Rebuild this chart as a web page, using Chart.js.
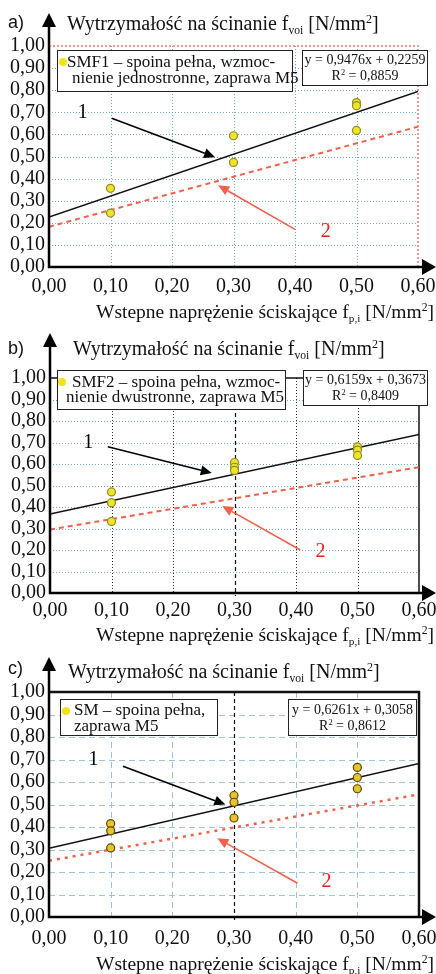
<!DOCTYPE html>
<html>
<head>
<meta charset="utf-8">
<script src="https://cdn.jsdelivr.net/npm/chart.js@4.4.0/dist/chart.umd.min.js"></script>
<style>
body { margin: 0; background: #fff; width: 436px; height: 974px; overflow: hidden; font-family: "Liberation Serif", serif; color: #111; }
.panel { position: absolute; left: 0; width: 436px; }
.panel canvas { position: absolute; left: 0; top: 0; }
.tag { position: absolute; font-family: "Liberation Sans", sans-serif; font-size: 18px; line-height: 24px; }
.ttl { position: absolute; font-size: 20px; line-height: 24px; white-space: nowrap; }
.xt { position: absolute; right: 2px; font-size: 19.5px; line-height: 24px; white-space: nowrap; }
.box { position: absolute; box-sizing: border-box; border: 1.5px solid #222; background: #fff; white-space: nowrap; }
.leg { font-size: 17px; line-height: 16px; }
.eq { font-size: 14px; line-height: 16px; text-align: center; }
.dot { position: absolute; width: 8px; height: 8px; border-radius: 50%; background: #f2e21a; }
sub { font-size: 58%; vertical-align: -0.35em; line-height: 0; }
sup { font-size: 60%; vertical-align: 0.6em; line-height: 0; }
</style>
</head>
<body>

<div class="panel" style="top:0;height:325px">
  <canvas id="ca" width="436" height="325"></canvas>
  <div class="tag" style="left:8px;top:10px">a)</div>
  <div class="ttl" style="left:67px;top:11px">Wytrzymałość na ścinanie f<sub>voi</sub> [N/mm<sup>2</sup>]</div>
  <div class="box leg" style="left:57px;top:50px;width:236px;height:42px">
    <div class="dot" style="left:1px;top:7px"></div>
    <div style="position:absolute;left:9px;top:3px">SMF1 – spoina pełna, wzmoc-</div>
    <div style="position:absolute;left:14px;top:19px">nienie jednostronne, zaprawa M5</div>
  </div>
  <div class="box eq" style="left:302px;top:50px;width:126px;height:36px;padding-top:1px">y = 0,9476x + 0,2259<br>R<sup>2</sup> = 0,8859</div>
  <div class="xt" style="top:300px">Wstepne naprężenie ściskające f<sub>p,i</sub> [N/mm<sup>2</sup>]</div>
</div>

<div class="panel" style="top:325px;height:325px">
  <canvas id="cb" width="436" height="325"></canvas>
  <div class="tag" style="left:8px;top:11px">b)</div>
  <div class="ttl" style="left:73px;top:11px">Wytrzymałość na ścinanie f<sub>voi</sub> [N/mm<sup>2</sup>]</div>
  <div class="box leg" style="left:57px;top:45px;width:229px;height:40px">
    <div class="dot" style="left:0px;top:7px"></div>
    <div style="position:absolute;left:14px;top:3px">SMF2 – spoina pełna, wzmoc-</div>
    <div style="position:absolute;left:8px;top:18px">nienie dwustronne, zaprawa M5</div>
  </div>
  <div class="box eq" style="left:303px;top:45px;width:125px;height:36px;padding-top:1px">y = 0,6159x + 0,3673<br>R<sup>2</sup> = 0,8409</div>
  <div class="xt" style="top:298px">Wstepne naprężenie ściskające f<sub>p,i</sub> [N/mm<sup>2</sup>]</div>
</div>

<div class="panel" style="top:650px;height:324px">
  <canvas id="cc" width="436" height="324"></canvas>
  <div class="tag" style="left:8px;top:6px">c)</div>
  <div class="ttl" style="left:68px;top:9px">Wytrzymałość na ścinanie f<sub>voi</sub> [N/mm<sup>2</sup>]</div>
  <div class="box leg" style="left:60px;top:49px;width:158px;height:37px">
    <div class="dot" style="left:1px;top:7px"></div>
    <div style="position:absolute;left:13px;top:2px">SM – spoina pełna,</div>
    <div style="position:absolute;left:13px;top:18px">zaprawa M5</div>
  </div>
  <div class="box eq" style="left:288px;top:49px;width:129px;height:37px;padding-top:2px">y = 0,6261x + 0,3058<br>R<sup>2</sup> = 0,8612</div>
  <div class="xt" style="top:302px">Wstepne naprężenie ściskające f<sub>p,i</sub> [N/mm<sup>2</sup>]</div>
</div>

<script>
// Tick labels
const xTicks = [0, 0.1, 0.2, 0.3, 0.4, 0.5, 0.6];
const yTicks = [0, 0.1, 0.2, 0.3, 0.4, 0.5, 0.6, 0.7, 0.8, 0.9, 1.0];
const lineX = [0, 0.6];

// a) SMF1
const aPtsX = [0.1, 0.1, 0.3, 0.3, 0.5, 0.5, 0.5];
const aPtsY = [0.356, 0.244, 0.594, 0.473, 0.744, 0.730, 0.618];
const aFitY = [0.226, 0.794];
const aRedY = [0.182, 0.635];
const aArrow1 = [0.102, 0.673, 0.27, 0.497];
const aArrow2 = [0.40, 0.17, 0.275, 0.37];
const aLabels = [0.055, 0.70, 0.45, 0.16];

// b) SMF2
const bPtsX = [0.1, 0.1, 0.1, 0.3, 0.3, 0.3, 0.5, 0.5, 0.5];
const bPtsY = [0.47, 0.42, 0.333, 0.607, 0.585, 0.57, 0.68, 0.665, 0.64];
const bFitY = [0.367, 0.737];
const bRedY = [0.295, 0.585];
const bArrow1 = [0.094, 0.68, 0.263, 0.558];
const bArrow2 = [0.407, 0.20, 0.28, 0.405];
const bLabels = [0.062, 0.70, 0.44, 0.19];

// c) SM
const cPtsX = [0.1, 0.1, 0.1, 0.3, 0.3, 0.3, 0.5, 0.5, 0.5];
const cPtsY = [0.415, 0.383, 0.307, 0.54, 0.51, 0.44, 0.665, 0.62, 0.57];
const cFitY = [0.306, 0.682];
const cRedY = [0.25, 0.545];
const cArrow1 = [0.12, 0.67, 0.286, 0.50];
const cArrow2 = [0.403, 0.15, 0.273, 0.35];
const cLabels = [0.072, 0.70, 0.45, 0.155];

const RED = '#f0604c';
const fmt = v => v.toFixed(2).replace('.', ',');

function arrow(ctx, x1, y1, x2, y2, color) {
  const ang = Math.atan2(y2 - y1, x2 - x1);
  const len = 11, w = 5;
  ctx.strokeStyle = color;
  ctx.fillStyle = color;
  ctx.lineWidth = 1.6;
  ctx.setLineDash([]);
  ctx.beginPath();
  ctx.moveTo(x1, y1);
  ctx.lineTo(x2 - len * Math.cos(ang), y2 - len * Math.sin(ang));
  ctx.stroke();
  ctx.beginPath();
  ctx.moveTo(x2, y2);
  ctx.lineTo(x2 - len * Math.cos(ang) + w * Math.sin(ang), y2 - len * Math.sin(ang) - w * Math.cos(ang));
  ctx.lineTo(x2 - len * Math.cos(ang) - w * Math.sin(ang), y2 - len * Math.sin(ang) + w * Math.cos(ang));
  ctx.closePath();
  ctx.fill();
}

function makeDecor(p) {
  return {
    id: 'decor' + p.id,
    beforeDatasetsDraw(chart) {
      const { ctx, chartArea: a, scales: { x, y } } = chart;
      ctx.save();
      // horizontal grid
      ctx.strokeStyle = p.hGrid.color;
      ctx.lineWidth = p.hGrid.width;
      ctx.setLineDash(p.hGrid.dash);
      yTicks.slice(1, -1).forEach(v => {
        const py = Math.round(y.getPixelForValue(v)) + 0.5;
        ctx.beginPath(); ctx.moveTo(a.left, py); ctx.lineTo(a.right, py); ctx.stroke();
      });
      // vertical grid
      xTicks.slice(1, -1).forEach(v => {
        const g = (v === 0.3 && p.midLine) ? p.midLine : p.vGrid;
        ctx.strokeStyle = g.color;
        ctx.lineWidth = g.width;
        ctx.setLineDash(g.dash);
        const px = Math.round(x.getPixelForValue(v)) + 0.5;
        ctx.beginPath(); ctx.moveTo(px, a.top); ctx.lineTo(px, a.bottom + (g.extra || 0)); ctx.stroke();
      });
      // top / right frame
      ctx.strokeStyle = p.frame.color;
      ctx.lineWidth = p.frame.width;
      ctx.setLineDash(p.frame.dash);
      ctx.beginPath();
      ctx.moveTo(a.left, a.top); ctx.lineTo(a.right, a.top); ctx.lineTo(a.right, a.bottom);
      ctx.stroke();
      ctx.restore();
    },
    afterDatasetsDraw(chart) {
      const { ctx, chartArea: a, scales: { x, y } } = chart;
      ctx.save();
      // axes with arrow heads
      ctx.setLineDash([]);
      ctx.strokeStyle = '#000';
      ctx.fillStyle = '#000';
      ctx.lineWidth = 2.5;
      ctx.beginPath();
      ctx.moveTo(a.left, p.axisTop + 10); ctx.lineTo(a.left, a.bottom);
      ctx.lineTo(a.right + 6, a.bottom);
      ctx.stroke();
      ctx.beginPath();
      ctx.moveTo(a.left, p.axisTop); ctx.lineTo(a.left - 7, p.axisTop + 14); ctx.lineTo(a.left + 7, p.axisTop + 14);
      ctx.closePath(); ctx.fill();
      ctx.beginPath();
      ctx.moveTo(436, a.bottom); ctx.lineTo(422, a.bottom - 8); ctx.lineTo(422, a.bottom + 8);
      ctx.closePath(); ctx.fill();
      // annotation arrows
      const A1 = p.arrow1, A2 = p.arrow2, L = p.labels;
      arrow(ctx, x.getPixelForValue(A1[0]), y.getPixelForValue(A1[1]), x.getPixelForValue(A1[2]), y.getPixelForValue(A1[3]), '#000');
      arrow(ctx, x.getPixelForValue(A2[0]), y.getPixelForValue(A2[1]), x.getPixelForValue(A2[2]), y.getPixelForValue(A2[3]), RED);
      ctx.font = '20px "Liberation Serif"';
      ctx.textAlign = 'center';
      ctx.textBaseline = 'middle';
      ctx.fillStyle = '#000';
      ctx.fillText('1', x.getPixelForValue(L[0]), y.getPixelForValue(L[1]));
      ctx.fillStyle = '#e8201c';
      ctx.fillText('2', x.getPixelForValue(L[2]), y.getPixelForValue(L[3]));
      ctx.restore();
    }
  };
}

function makeChart(p) {
  const H = p.h;
  new Chart(document.getElementById(p.id), {
    type: 'scatter',
    data: {
      datasets: [
        {
          data: p.ptsX.map((v, i) => ({ x: v, y: p.ptsY[i] })),
          backgroundColor: p.ptFill,
          borderColor: p.ptBorder,
          borderWidth: 1.2,
          pointRadius: 4,
          order: 0
        },
        {
          data: lineX.map((v, i) => ({ x: v, y: p.fit[i] })),
          showLine: true,
          borderColor: '#111',
          borderWidth: 1.5,
          pointRadius: 0,
          order: 1
        },
        {
          data: lineX.map((v, i) => ({ x: v, y: p.red[i] })),
          showLine: true,
          borderColor: RED,
          borderWidth: p.redWidth,
          borderDash: p.redDash,
          pointRadius: 0,
          order: 2
        }
      ]
    },
    options: {
      responsive: false,
      animation: false,
      events: [],
      layout: { padding: { left: 0, right: 436 - p.area.r, top: p.area.t, bottom: 0 } },
      plugins: { legend: { display: false }, tooltip: { enabled: false } },
      scales: {
        x: {
          type: 'linear', min: 0, max: 0.6,
          afterBuildTicks: s => { s.ticks = xTicks.map(v => ({ value: v })); },
          afterFit: s => { s.height = H - p.area.b; s.paddingLeft = 0; s.paddingRight = 0; },
          grid: { display: false, drawTicks: false },
          border: { display: false },
          ticks: { padding: p.xPad, maxRotation: 0, autoSkip: false, color: '#111', font: { family: 'Liberation Serif', size: 20 }, callback: v => fmt(v) }
        },
        y: {
          type: 'linear', min: 0, max: 1,
          afterBuildTicks: s => { s.ticks = yTicks.map(v => ({ value: v })); },
          afterFit: s => { s.width = p.area.l; s.paddingTop = 0; s.paddingBottom = 0; },
          grid: { display: false, drawTicks: false },
          border: { display: false },
          ticks: { padding: 4, autoSkip: false, color: '#111', font: { family: 'Liberation Serif', size: 20 }, callback: v => fmt(v) }
        }
      }
    },
    plugins: [makeDecor(p)]
  });
}

const blueDot = { color: '#6fa6d4', width: 1, dash: [1, 2] };

makeChart({
  id: 'ca', h: 325, area: { l: 49, r: 418, t: 46, b: 267 }, axisTop: 13, xPad: 8,
  ptsX: aPtsX, ptsY: aPtsY, fit: aFitY, red: aRedY,
  arrow1: aArrow1, arrow2: aArrow2, labels: aLabels,
  ptFill: '#f0e428', ptBorder: '#8c8c2a', redWidth: 2, redDash: [5, 4],
  hGrid: blueDot, vGrid: blueDot, midLine: null,
  frame: { color: '#ec9a9a', width: 2, dash: [2, 2] }
});

makeChart({
  id: 'cb', h: 325, area: { l: 50, r: 419, t: 53, b: 268 }, axisTop: 8, xPad: 6,
  ptsX: bPtsX, ptsY: bPtsY, fit: bFitY, red: bRedY,
  arrow1: bArrow1, arrow2: bArrow2, labels: bLabels,
  ptFill: '#f0e428', ptBorder: '#8c8c2a', redWidth: 2, redDash: [5, 4],
  hGrid: blueDot, vGrid: { color: '#333', width: 1, dash: [1, 2] },
  midLine: { color: '#111', width: 1.2, dash: [4, 3], extra: 3 },
  frame: { color: '#111', width: 1.5, dash: [] }
});

makeChart({
  id: 'cc', h: 324, area: { l: 49, r: 419, t: 42, b: 267 }, axisTop: 7, xPad: 10,
  ptsX: cPtsX, ptsY: cPtsY, fit: cFitY, red: cRedY,
  arrow1: cArrow1, arrow2: cArrow2, labels: cLabels,
  ptFill: '#e8c42c', ptBorder: '#5a4a10', redWidth: 2.5, redDash: [3, 5],
  hGrid: { color: '#9ec2de', width: 1, dash: [6, 4] }, vGrid: { color: '#9ec2de', width: 1, dash: [6, 4] },
  midLine: { color: '#111', width: 1.2, dash: [4, 3], extra: 4 },
  frame: { color: '#111', width: 2.5, dash: [] }
});
</script>
</body>
</html>
